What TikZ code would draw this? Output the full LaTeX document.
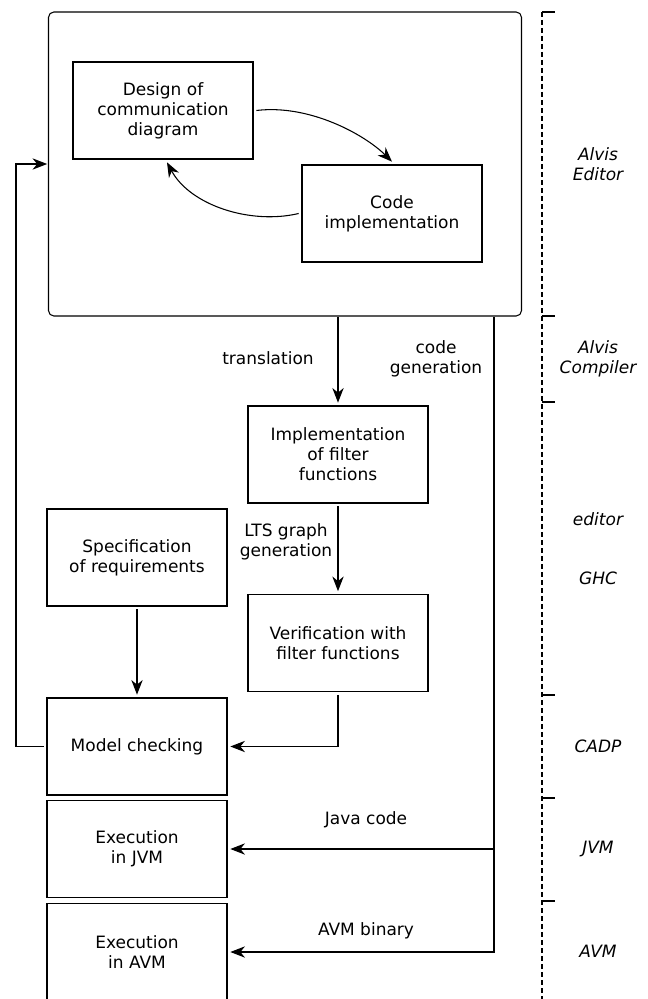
\documentclass[tikz,border=0pt]{standalone}
\usepackage{fontspec}
\setmainfont{DejaVu Sans}
\usepackage{tikz}
\usetikzlibrary{arrows.meta}
\tikzstyle{boxes} = [rectangle, minimum width=135pt, minimum height=72.75pt, align=center,
draw=black, line width=0.8pt, outer sep=2.5pt, font=\fontsize{12.75}{15}\selectfont]
\tikzstyle{arrow} = [line width=0.8pt, -{Stealth[length=11pt,width=8.5pt,inset=3.5pt]}]
\tikzstyle{plain} = [line width=0.8pt]
\tikzstyle{lbl} = [align=center, font=\fontsize{12.75}{15}\selectfont]
\tikzstyle{tool} = [align=center, font=\fontsize{12.75}{15}\selectfont\itshape]

\begin{document}
\begin{tikzpicture}[x=0.75pt,y=-0.75pt]
            \useasboundingbox (0,0) rectangle (648,999);

            % Draw Boxes
            \node(frame) [rectangle, rounded corners=4pt, draw=black, line width=0.8pt,
                minimum width=354.75pt, minimum height=228pt, outer sep=1pt] at (285,164) {};
            \node(design) [boxes] at (163,110.5) {Design of\\communication\\diagram};
            \node(code) [boxes] at (392,213.5) {Code\\implementation};
            \node(impl) [boxes] at (338,454.5) {Implementation\\of filter\\functions};
            \node(verif) [boxes] at (338,643) {Verification with\\filter functions};
            \node(spec) [boxes] at (137,557.5) {Specification\\of requirements};
            \node(model) [boxes] at (137,746.5) {Model checking};
            \node(jvm) [boxes] at (137,849) {Execution\\in JVM};
            \node(avm) [boxes] at (137,952) {Execution\\in AVM};

            % Labels
            \node(translbl) [lbl] at (268,358) {translation};
            \node(codegen) [lbl] at (436,359) {code\\generation};
            \node(ltslbl) [lbl] at (286,542) {LTS graph\\generation};
            \node(javalbl) [lbl] at (366,820) {Java code};
            \node(avmlbl) [lbl] at (366,931) {AVM binary};

            % Draw Arrows
            \coordinate(fb) at (16,746.5);
            \coordinate(cg) at (494,0);
            \draw[arrow] (design.east) .. controls (310,104) and (365,135) .. (code.north);
            \draw[arrow] (code.west) .. controls (250,225) and (190,205) .. ([xshift=3pt]design.south);
            \draw[arrow] (frame.south -| impl) -- (impl.north);
            \draw[arrow] (impl) -- (verif);
            \draw[arrow] (spec) -- (model);
            \draw[arrow] (verif.south) |- (model.east);
            \draw[arrow] (model.west) -- (fb) |- (frame.west);
            \draw[arrow] (frame.south -| cg) |- (avm.east);
            \draw[arrow] (cg |- jvm) -- (jvm.east);

            % Tool chain on the right
            \draw[plain, dash pattern=on 3.75pt off 2.25pt] (542,12) -- (542,999);
            \foreach \y in {12,316,402,695,798,901}
                \draw[plain] (542,\y) -- (555,\y);
            \node(ed) [tool] at (598,164) {Alvis\\Editor};
            \node(comp) [tool] at (598,359) {Alvis\\Compiler};
            \node(edit) [tool] at (598,519) {editor};
            \node(ghc) [tool] at (598,578) {GHC};
            \node(cadp) [tool] at (598,746) {CADP};
            \node(jvmt) [tool] at (598,849) {JVM};
            \node(avmt) [tool] at (598,951) {AVM};
        \end{tikzpicture}
\end{document}
